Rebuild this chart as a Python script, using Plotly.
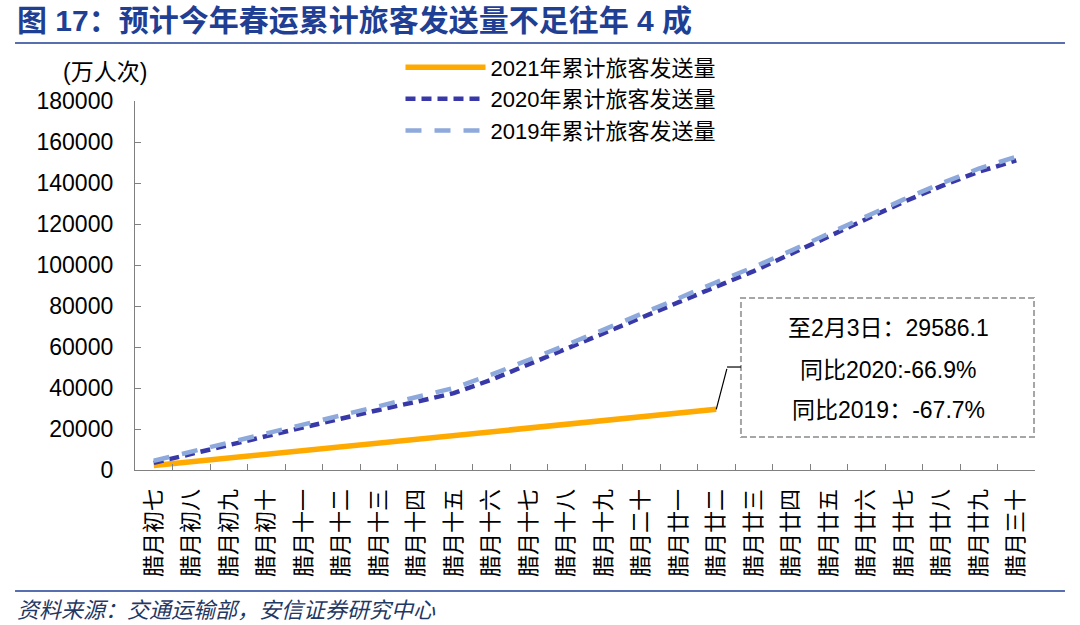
import plotly.graph_objects as go

categories = ["腊月初七", "腊月初八", "腊月初九", "腊月初十", "腊月十一", "腊月十二",
              "腊月十三", "腊月十四", "腊月十五", "腊月十六", "腊月十七", "腊月十八",
              "腊月十九", "腊月二十", "腊月廿一", "腊月廿二", "腊月廿三", "腊月廿四",
              "腊月廿五", "腊月廿六", "腊月廿七", "腊月廿八", "腊月廿九", "腊月三十"]

y2021 = [2200, 4000, 5800, 7600, 9500, 11300, 13100, 14900, 16800, 18600,
         20400, 22200, 24100, 25900, 27700, 29586.1]

y2020 = [3500, 8000, 12300, 16500, 20800, 25200, 29300, 33300, 37500, 44000,
         51500, 59000, 66500, 74000, 81700, 89400, 97000, 105500, 114000, 122600,
         130800, 138500, 145500, 151000]

y2019 = [4500, 9000, 13500, 18000, 22500, 27000, 31300, 35500, 40000, 46500,
         53500, 61000, 68500, 76000, 83800, 91600, 99000, 107000, 115500, 124000,
         132000, 139800, 147000, 152800]

yticks = [0, 20000, 40000, 60000, 80000, 100000, 120000, 140000, 160000, 180000]

box_lines = ["至2月3日：29586.1", "同比2020:-66.9%", "同比2019：-67.7%"]

FONT = "Liberation Sans, Arial, Noto Sans CJK SC, sans-serif"
NAVY = "#1F3F94"
AXIS = "#808080"

fig = go.Figure()
fig.add_trace(go.Scatter(x=categories[:len(y2021)], y=y2021, mode="lines",
                         name="2021年累计旅客发送量",
                         line=dict(color="#FFAA00", width=5.5)))
fig.add_trace(go.Scatter(x=categories, y=y2020, mode="lines",
                         name="2020年累计旅客发送量",
                         line=dict(color="#3838A8", width=4.5, dash="10px,6px")))
fig.add_trace(go.Scatter(x=categories, y=y2019, mode="lines",
                         name="2019年累计旅客发送量",
                         line=dict(color="#8EA9DB", width=4.5, dash="16px,13px")))

fig.update_layout(
    width=1080, height=625,
    margin=dict(l=135, r=45, t=101, b=155),
    paper_bgcolor="white", plot_bgcolor="white",
    font=dict(family=FONT, size=23, color="black"),
    showlegend=True,
    legend=dict(x=0.295, y=1.148, xanchor="left", yanchor="top",
                font=dict(size=22, family=FONT), itemwidth=80,
                bgcolor="rgba(0,0,0,0)", tracegroupgap=0),
    xaxis=dict(type="category", categoryorder="array", categoryarray=categories,
               tickson="boundaries", ticks="inside", ticklen=6, tickcolor=AXIS,
               showline=True, linecolor=AXIS, linewidth=1.3, showgrid=False,
               tickangle=-90, tickfont=dict(size=22, family=FONT),
               range=[-0.5, len(categories) - 0.5], ticklabelstandoff=9),
    yaxis=dict(range=[0, 180000], tickvals=yticks, ticks="inside", ticklen=6,
               tickcolor=AXIS, showline=True, linecolor=AXIS, linewidth=1.3,
               showgrid=False, zeroline=False, tickformat="d",
               tickfont=dict(size=23, family=FONT), ticklabelstandoff=16),
)

# annotation box
fig.add_shape(type="rect", xref="paper", yref="paper",
              x0=0.6733, x1=0.9989, y0=0.0894, y1=0.4661,
              line=dict(color="#A6A6A6", width=2, dash="6px,3px"))
for txt, yy in zip(box_lines, [0.3848, 0.271, 0.1626]):
    fig.add_annotation(text=txt, xref="paper", yref="paper", x=0.8367, y=yy,
                       xanchor="center", yanchor="middle", showarrow=False,
                       font=dict(size=23, family=FONT, color="black"))
# connector
fig.add_annotation(x=categories[len(y2021) - 1], y=y2021[-1], xref="x", yref="y",
                   text="", showarrow=True, arrowhead=0, arrowwidth=1.2,
                   arrowcolor="black", ax=11, ay=-42, standoff=0)
fig.add_shape(type="line", xref="paper", yref="paper",
              x0=0.6578, x1=0.6733, y0=0.2791, y1=0.2791,
              line=dict(color="black", width=1.2))

# y axis unit
fig.add_annotation(text="(万人次)", xref="paper", yref="paper", x=0.0155, y=1.0786,
                   xanchor="right", yanchor="middle", showarrow=False,
                   font=dict(size=23, family=FONT))

# title
fig.add_annotation(text="<b>图 17：预计今年春运累计旅客发送量不足往年 4 成</b>",
                   xref="paper", yref="paper", x=-0.1333, y=1.2195,
                   xanchor="left", yanchor="middle", showarrow=False,
                   font=dict(size=30, family="Liberation Sans, Noto Sans CJK SC", color=NAVY))
fig.add_shape(type="line", xref="paper", yref="paper", x0=-0.1333, x1=1.0333,
              y0=1.1572, y1=1.1572, line=dict(color=NAVY, width=1.5))

# footer
fig.add_shape(type="line", xref="paper", yref="paper", x0=-0.1333, x1=1.0333,
              y0=-0.3279, y1=-0.3279, line=dict(color=NAVY, width=1.5))
fig.add_annotation(text="<i>资料来源：交通运输部，安信证券研究中心</i>",
                   xref="paper", yref="paper", x=-0.1333, y=-0.3740,
                   xanchor="left", yanchor="middle", showarrow=False,
                   font=dict(size=22, family="Noto Sans CJK SC", color="#1F3864"))

fig.write_html("out.html", config={"displayModeBar": False},
               post_script="document.body.style.margin='0px';document.body.style.overflow='hidden';")
